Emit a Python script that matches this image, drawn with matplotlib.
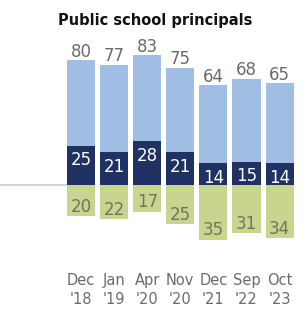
import matplotlib
matplotlib.use('Agg')
import matplotlib.pyplot as plt
import numpy as np

dates = ["Dec\n'18", "Jan\n'19", "Apr\n'20", "Nov\n'20", "Dec\n'21", "Sep\n'22", "Oct\n'23"]
total = [80, 77, 83, 75, 64, 68, 65]      # light blue bar
strong = [25, 21, 28, 21, 14, 15, 14]     # navy part
negative = [20, 22, 17, 25, 35, 31, 34]   # green, below the line

light = '#a0bde4'
navy = '#1f3263'
green = '#c8d58e'

fig = plt.figure(figsize=(3.08, 3.10), dpi=100)
ax = fig.add_axes([0, 45 / 310, 1, 265 / 310])

x = np.arange(len(dates))
w = 0.85

ax.bar(x, total, width=w, color=light, zorder=2)
ax.bar(x, strong, width=w, color=navy, zorder=3)
ax.bar(x, [-v for v in negative], width=w, color=green, zorder=2)
ax.axhline(0, xmax=0.215, color='#d3d3d3', lw=1.5, zorder=1)

for i in range(len(x)):
    ax.text(x[i], total[i] + 5.4, str(total[i]), ha='center', va='center',
            fontsize=12, color='#6b6b6b')
    ax.text(x[i], strong[i] - 9.3, str(strong[i]), ha='center', va='center',
            fontsize=12, color='white')
    ax.text(x[i], -negative[i] + 6.0, str(negative[i]), ha='center', va='center',
            fontsize=12, color='#70745f')

ax.set_xlim(-81 / 33.1, (308 - 81) / 33.1)
ax.set_ylim(-80 / 1.5625, 185 / 1.5625)
ax.set_xticks(x)
ax.set_xticklabels(dates, fontsize=10.5, color='#6b6b6b', linespacing=1.3)
ax.tick_params(axis='x', length=0, pad=6)
ax.set_yticks([])
for s in ax.spines.values():
    s.set_visible(False)

fig.text(0.505, 1 - 20 / 310, 'Public school principals', ha='center', va='center',
         fontsize=10.5, weight='heavy', color='#111111')

fig.savefig('out.png', dpi=100)
